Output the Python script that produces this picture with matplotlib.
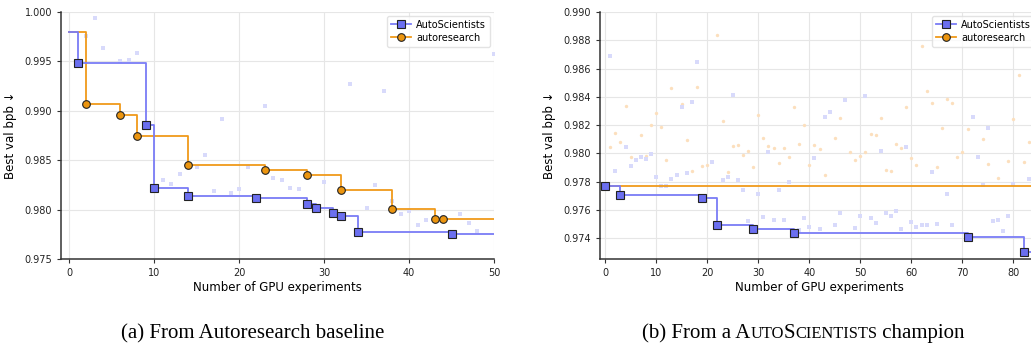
import numpy as np
import matplotlib
matplotlib.use("Agg")
import matplotlib.pyplot as plt
from matplotlib.lines import Line2D

n = np.nan

# (a) from the autoresearch baseline, experiment 0 = baseline
left_auto = [0.998, 0.99484, 0.99753, 0.99935, 0.99632, n, 0.99500, 0.99510, 0.99581, 0.98859,
             0.98215, 0.98296, 0.98255, 0.98360, 0.98141, 0.98430, 0.98548, 0.98184, 0.98913, 0.98164,
             0.98204, 0.98430, 0.98121, 0.99045, 0.98316, 0.98296, 0.98215, 0.98204, 0.98060, 0.98012,
             0.98275, 0.97962, 0.97931, 0.99267, 0.97769, 0.98012, 0.98245, 0.99197, 0.98083, 0.97960,
             0.97986, 0.97847, 0.97891, n, 0.97930, 0.97756, 0.97951, 0.97860, 0.97780, n,
             0.99575]
left_ar = [0.998, n, 0.99072, n, n, n, 0.98954, n, 0.98741, n,
           n, n, n, n, 0.98451, n, n, n, n, n,
           n, n, n, 0.98404, n, n, n, n, 0.98353, n,
           n, n, 0.98201, n, n, n, n, n, 0.98002, n,
           n, n, n, 0.97908, 0.97902, n, n, n, n, n,
           n]

# (b) from an AutoScientists champion
right_auto = [0.97770, 0.98686, 0.97872, 0.97707, 0.98042, 0.97914, 0.97950, 0.97971, 0.97962, 0.97997,
              0.97836, 0.97766, 0.97766, 0.97820, 0.97848, 0.98325, 0.97862, 0.98360, 0.98643, 0.97683,
              n, 0.97940, 0.97496, 0.97815, 0.97830, 0.98415, 0.97815, 0.97744, 0.97525, 0.97466,
              0.97716, 0.97553, 0.98013, 0.97532, 0.97744, 0.97532, 0.97801, 0.97435, 0.97459, 0.97546,
              0.97482, 0.97964, 0.97468, 0.98254, 0.98290, 0.97497, 0.97581, 0.98381, n, 0.97475,
              0.97560, 0.98403, 0.97546, 0.97511, 0.98020, 0.97581, 0.97560, 0.97589, 0.97468, 0.98042,
              0.97518, 0.97482, 0.97497, 0.97497, 0.97865, 0.97504, n, 0.97716, 0.97490, n,
              n, 0.97407, 0.98254, 0.97971, 0.97773, 0.98183, 0.97525, 0.97532, 0.97454, 0.97560,
              0.97780, n, 0.97301, 0.97822, n]
right_ar = [0.97770, 0.98046, 0.98143, 0.98084, 0.98334, 0.97971, n, 0.98131, 0.97985, 0.98200,
            0.98289, 0.98190, 0.97954, 0.98459, n, 0.98348, 0.98096, 0.97874, 0.98469, 0.97910,
            0.97917, n, 0.98835, 0.98230, 0.97867, 0.98053, 0.98058, 0.97987, 0.98018, 0.97907,
            0.98271, 0.98108, 0.98049, 0.98035, 0.97931, 0.98035, 0.97973, 0.98330, 0.98068, 0.98204,
            0.97917, 0.98058, 0.98030, 0.97846, n, 0.98110, 0.98252, n, 0.98009, 0.97950,
            0.97983, 0.98009, 0.98138, 0.98131, 0.98252, 0.97879, 0.97872, 0.98063, 0.98039, 0.98327,
            0.97966, 0.97919, 0.98757, 0.98438, 0.98356, 0.97907, 0.98183, 0.98386, 0.98358, 0.97976,
            0.98013, 0.98176, n, n, 0.98103, 0.97928, n, 0.97825, n, 0.97947,
            0.98245, 0.98556, 0.97938, 0.98082, n]

labels = ["AutoScientists", "autoresearch"]

blue_line, blue_face, blue_faint = "#7a7cf6", "#6b6ff0", "#d8dafb"
orng_line, orng_face, orng_faint = "#f09a1a", "#ec950f", "#fcdfbd"


def draw(ax, auto, ar, mark_first):
    series = [(ar, orng_line, orng_face, orng_faint, "o", 3),
              (auto, blue_line, blue_face, blue_faint, "s", 5)]
    for vals, lc, fc, faint, mk, z in series:
        vals = np.array(vals)
        x = np.arange(len(vals))
        best = np.fmin.accumulate(vals)
        prev = np.concatenate([[np.inf], best[:-1]])
        imp = vals < prev
        if not mark_first:
            imp[0] = False
        ax.scatter(x[1:], vals[1:], marker=mk, s=9 if mk == "s" else 6,
                   color=faint, linewidths=0, zorder=2)
        ax.step(x, best, where="post", color=lc, lw=1.3, zorder=z)
        ax.plot(x[imp], vals[imp], ls="none", marker=mk, ms=6 if mk == "s" else 5.5,
                mfc=fc, mec="#222222", mew=0.8, zorder=z + 0.5)

    for s in ["top", "right"]:
        ax.spines[s].set_visible(False)
    for s in ["left", "bottom"]:
        ax.spines[s].set_color("#333333")
        ax.spines[s].set_linewidth(1.1)
    ax.grid(True, color="#e6e6e6", lw=0.8)
    ax.set_axisbelow(True)
    ax.tick_params(labelsize=7, length=3, width=0.8, colors="#333333", labelcolor="#222222")
    ax.set_xlabel("Number of GPU experiments", fontsize=8.5, labelpad=2)
    ax.set_ylabel("Best val bpb \u2193", fontsize=8.5, labelpad=5)

    handles = [Line2D([], [], color=blue_line, lw=1.3, marker="s", ms=6, mfc=blue_face, mec="#222222", mew=0.8),
               Line2D([], [], color=orng_line, lw=1.3, marker="o", ms=5.5, mfc=orng_face, mec="#222222", mew=0.8)]
    ax.legend(handles, labels, loc="upper right", fontsize=7, frameon=True,
              edgecolor="#dddddd", fancybox=True, borderpad=0.4, handlelength=2,
              handletextpad=0.6, labelspacing=0.3, borderaxespad=0.4)


fig = plt.figure(figsize=(10.31, 3.45), dpi=100)
ax1 = fig.add_axes([61 / 1031, 1 - 259 / 345, 433 / 1031, 247 / 345])
ax2 = fig.add_axes([600 / 1031, 1 - 259 / 345, 439 / 1031, 247 / 345])

draw(ax1, left_auto, left_ar, False)
ax1.set_xlim(-1, 50)
ax1.set_ylim(0.975, 1.000)
ax1.set_yticks(np.arange(0.975, 1.0001, 0.005))
ax1.set_yticklabels(["%.3f" % v for v in np.arange(0.975, 1.0001, 0.005)])

draw(ax2, right_auto, right_ar, True)
ax2.set_xlim(-1, 85)
ax2.set_ylim(0.97253, 0.990)
ax2.set_yticks(np.arange(0.974, 0.9901, 0.002))
ax2.set_yticklabels(["%.3f" % v for v in np.arange(0.974, 0.9901, 0.002)])
ax2.set_xticks(range(0, 81, 10))

serif = "Liberation Serif"
fig.text(0.245, 0.02, "(a) From Autoresearch baseline", family=serif, size=15,
         ha="center", va="baseline")

# caption (b) with small caps
pieces = [("(b) From a A", 15), ("UTO", 11.8), ("S", 15), ("CIENTISTS", 11.8), (" champion", 15)]
renderer = fig.canvas.get_renderer()
texts = []
xpos = 0.0
for s, sz in pieces:
    t = fig.text(xpos, 0.02, s, family=serif, size=sz, va="baseline", ha="left")
    texts.append((t, xpos))
    xpos += t.get_window_extent(renderer).width / fig.bbox.width
start = 0.779 - xpos / 2
for t, xp in texts:
    t.set_x(start + xp)

fig.savefig("out.png", dpi=100)
